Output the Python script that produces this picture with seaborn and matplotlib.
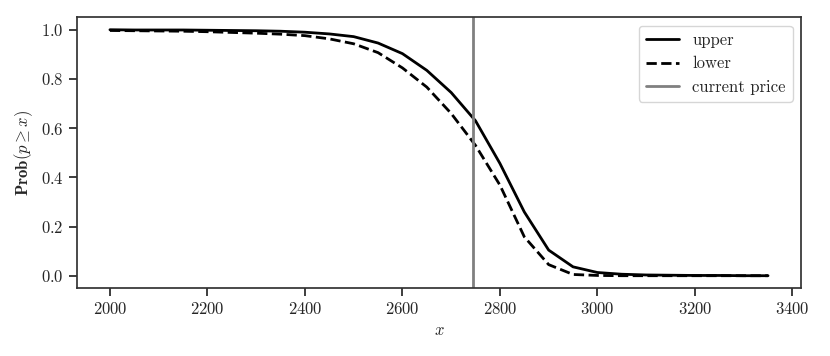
import numpy as np
import pandas as pd
import matplotlib
matplotlib.use("Agg")
import matplotlib.pyplot as plt
import seaborn as sns

x_vals = [2000, 2050, 2100, 2150, 2200, 2250, 2300, 2350, 2400, 2450, 2500, 2550,
          2600, 2650, 2700, 2750, 2800, 2850, 2900, 2950, 3000, 3050, 3100, 3150,
          3200, 3250, 3300, 3350]
upper = [1.000, 0.999, 0.999, 0.999, 0.998, 0.997, 0.996, 0.994, 0.990, 0.983, 0.972, 0.946,
         0.903, 0.835, 0.745, 0.630, 0.457, 0.260, 0.105, 0.037, 0.014, 0.007, 0.004, 0.003,
         0.002, 0.002, 0.001, 0.001]
lower = [0.997, 0.996, 0.995, 0.994, 0.992, 0.989, 0.986, 0.982, 0.976, 0.963, 0.943, 0.907,
         0.845, 0.767, 0.660, 0.530, 0.369, 0.159, 0.046, 0.006, 0.002, 0.001, 0.001, 0.001,
         0.001, 0.001, 0.001, 0.001]
current_price = 2745
labels = ["upper", "lower", "current price"]

sns.set_theme(style="ticks")
plt.rcParams["font.family"] = ["serif"]
plt.rcParams["font.serif"] = ["cmr10", "DejaVu Serif"]
plt.rcParams["mathtext.fontset"] = "cm"
plt.rcParams["axes.formatter.use_mathtext"] = True
plt.rcParams["font.size"] = 12

fig = plt.figure(figsize=(8.3, 3.56), dpi=100)
ax = fig.add_axes([0.0928, 0.191, 0.8722, 0.760])

df = pd.DataFrame({"x": x_vals, "upper": upper, "lower": lower})
sns.lineplot(data=df, x="x", y="upper", ax=ax, color="black", lw=2.0, label=labels[0])
sns.lineplot(data=df, x="x", y="lower", ax=ax, color="black", lw=2.0, ls="--", label=labels[1])
ax.axvline(current_price, color="gray", lw=2.0, label=labels[2])

ax.set_xlabel(r"$x$", fontsize=12)
ax.set_ylabel(r"$\mathbf{Prob}(p \geq x)$", fontsize=12)
ax.set_xticks([2000, 2200, 2400, 2600, 2800, 3000, 3200, 3400])
ax.set_yticks([0.0, 0.2, 0.4, 0.6, 0.8, 1.0])
ax.tick_params(labelsize=12)
for s in ax.spines.values():
    s.set_color("#333333")
ax.legend(loc="upper right", fontsize=12, frameon=True, fancybox=True)

fig.savefig("out.png", dpi=100)
